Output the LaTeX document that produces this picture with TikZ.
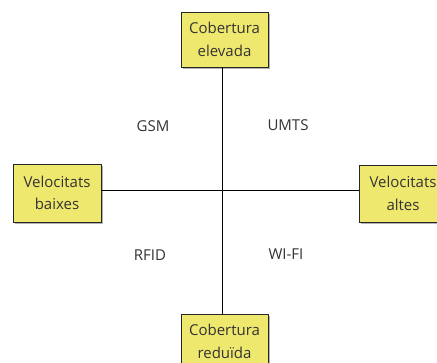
\documentclass[tikz,border=0pt]{standalone}
\usepackage{fontspec}
\setmainfont{Open Sans}
\definecolor{boxfill}{HTML}{EFE86F}
\definecolor{txt}{HTML}{333333}
\begin{document}
\begin{tikzpicture}[x=1pt,y=-1pt,
  quad/.style={draw=black!85,line width=0.8pt,fill=boxfill,text=txt,align=center,
    inner sep=0pt,font=\fontsize{15}{22.5}\selectfont},
  shade/.style={fill=gray!60},
  lbl/.style={text=txt,font=\fontsize{15}{18}\selectfont,inner sep=0pt},
  axis/.style={draw=black,line width=1pt}]
\useasboundingbox (0,0) rectangle (437,362);
\clip (0,0) rectangle (437,362);
% shadows
\fill[shade] (182.5,13.5) rectangle (269.5,68.5);
\fill[shade] (14.5,165.5) rectangle (102.5,223.5);
\fill[shade] (360.5,166.5) rectangle (448.5,223.5);
\fill[shade] (182.5,315.5) rectangle (269.5,370.5);
\node[quad,minimum width=87,minimum height=55] (top) at (224.5,39.5) {Cobertura\\elevada};
\node[quad,minimum width=88,minimum height=58] (left) at (57,193) {Velocitats\\baixes};
\node[quad,minimum width=88,minimum height=57] (right) at (403,193.5) {Velocitats\\altes};
\node[quad,minimum width=87,minimum height=55] (bot) at (224.5,341.5) {Cobertura\\reduïda};
\draw[axis] ([xshift=-2pt]top.south) -- ([xshift=-2pt]bot.north);
\draw[axis] ([yshift=2.5pt]left.east) -- ([yshift=3pt]right.west);
\node[lbl] (gsm) at (153,126) {GSM};
\node[lbl] (umts) at (288,125) {UMTS};
\node[lbl] (rfid) at (150,255) {RFID};
\node[lbl] (wifi) at (286,254) {WI-FI};
\end{tikzpicture}
\end{document}
